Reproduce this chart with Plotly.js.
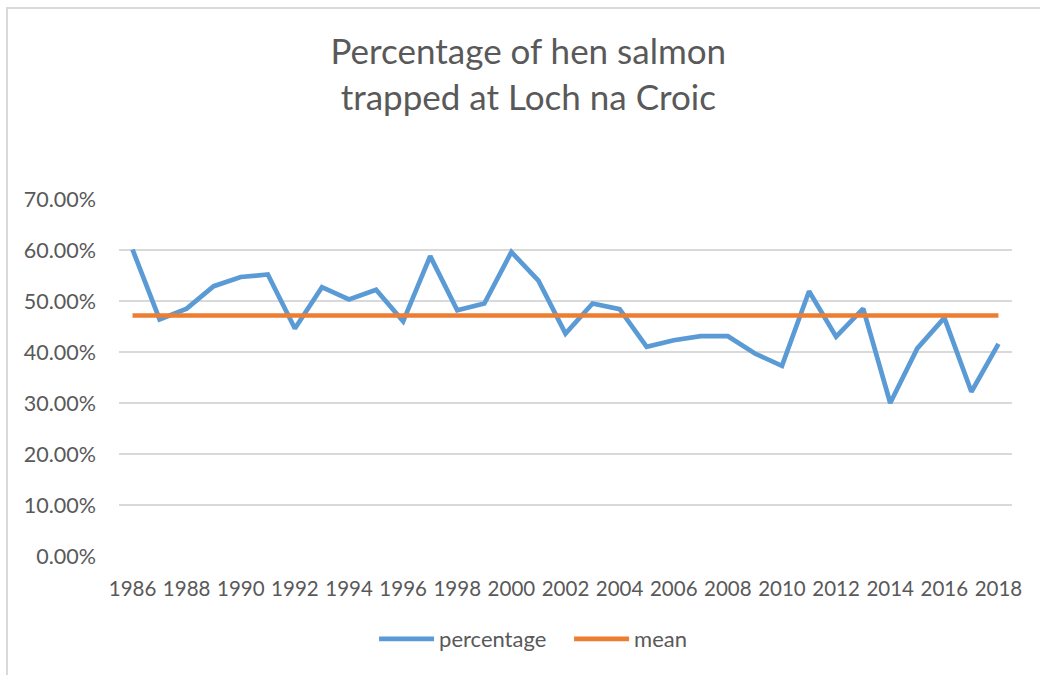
<!DOCTYPE html>
<html>
<head>
<meta charset="utf-8">
<script src="https://cdn.plot.ly/plotly-3.0.1.min.js"></script>
<style>
  html, body { margin: 0; padding: 0; background: #ffffff; }
  #wrap { position: relative; width: 1040px; height: 675px; overflow: hidden; }
  #chart { width: 1040px; height: 675px; }
  #frame { position: absolute; left: 6px; top: 7px; width: 1100px; height: 700px;
           border-left: 2px solid #d9d9d9; border-top: 2px solid #d9d9d9; pointer-events: none; }
</style>
</head>
<body>
<div id="wrap">
  <div id="chart"></div>
  <div id="frame"></div>
</div>
<script>
const years = [1986, 1987, 1988, 1989, 1990, 1991, 1992, 1993, 1994, 1995, 1996,
               1997, 1998, 1999, 2000, 2001, 2002, 2003, 2004, 2005, 2006, 2007,
               2008, 2009, 2010, 2011, 2012, 2013, 2014, 2015, 2016, 2017, 2018];
const percentage = [0.601, 0.464, 0.485, 0.529, 0.547, 0.552, 0.446, 0.527, 0.503, 0.522, 0.460,
                    0.588, 0.482, 0.495, 0.596, 0.540, 0.436, 0.495, 0.484, 0.410, 0.423, 0.431,
                    0.431, 0.397, 0.373, 0.519, 0.430, 0.485, 0.300, 0.407, 0.467, 0.322, 0.416];
const mean = [0.4716, 0.4716, 0.4716, 0.4716, 0.4716, 0.4716, 0.4716, 0.4716, 0.4716, 0.4716, 0.4716,
              0.4716, 0.4716, 0.4716, 0.4716, 0.4716, 0.4716, 0.4716, 0.4716, 0.4716, 0.4716, 0.4716,
              0.4716, 0.4716, 0.4716, 0.4716, 0.4716, 0.4716, 0.4716, 0.4716, 0.4716, 0.4716, 0.4716];
const titleText = 'Percentage of hen salmon<br>trapped at Loch na Croic';
const seriesNames = ['percentage', 'mean'];

const FONT = 'Lato, "Open Sans", sans-serif';
const GREY = '#595959';

const traces = [
  { x: years, y: percentage, name: seriesNames[0], type: 'scatter', mode: 'lines',
    line: { color: '#5B9BD5', width: 4.7 }, hoverinfo: 'x+y' },
  { x: years, y: mean, name: seriesNames[1], type: 'scatter', mode: 'lines',
    line: { color: '#ED7D31', width: 4.7 }, hoverinfo: 'x+y' }
];

const layout = {
  width: 1040, height: 675,
  margin: { l: 119, r: 28, t: 199, b: 119 },
  paper_bgcolor: '#ffffff', plot_bgcolor: '#ffffff',
  font: { family: FONT, color: GREY, size: 20 },
  title: { text: titleText, font: { family: FONT, size: 35, color: GREY },
           x: 0.508, xref: 'container', xanchor: 'center',
           y: 0.905, yref: 'container', yanchor: 'middle' },
  xaxis: { range: [1985.5, 2018.5], tick0: 1986, dtick: 2, showgrid: false, zeroline: false,
           showline: false, ticks: '', ticklabelstandoff: 18,
           tickfont: { family: FONT, size: 20.5, color: GREY } },
  yaxis: { range: [0, 0.7], dtick: 0.1, tickformat: '.2%', showgrid: true,
           gridcolor: '#d9d9d9', gridwidth: 1.5, zeroline: false, showline: false, ticks: '',
           ticklabelstandoff: 22, tickfont: { family: FONT, size: 21.5, color: GREY } },
  showlegend: true,
  legend: { orientation: 'h', x: 0.504, xanchor: 'center', y: -0.2325, yanchor: 'middle',
            font: { family: FONT, size: 22, color: GREY }, itemwidth: 55, entrywidth: 125 }
};

Plotly.newPlot('chart', traces, layout, { displayModeBar: false, staticPlot: true });
</script>
</body>
</html>
